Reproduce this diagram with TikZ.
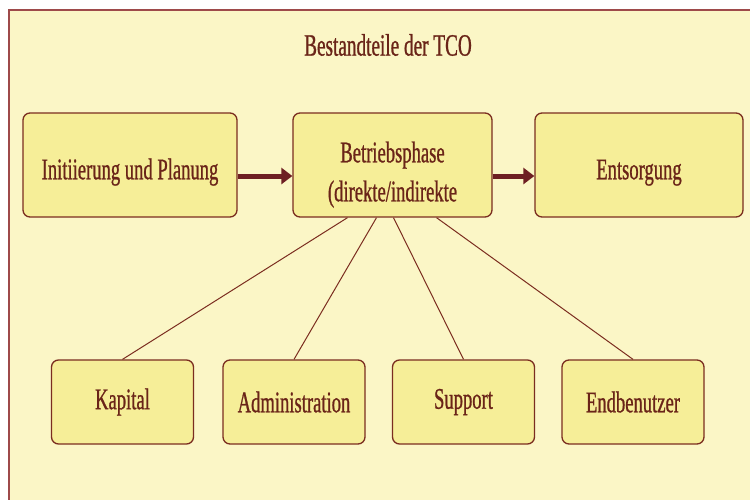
\documentclass[tikz,border=0pt]{standalone}
\usepackage{fontspec}
\setmainfont[FakeStretch=0.62,FakeBold=0.8]{Liberation Serif}
\usepackage{tikz}
\usetikzlibrary{calc}
\usetikzlibrary{arrows.meta,backgrounds,shapes}
\usetikzlibrary{positioning}
\usepackage{xcolor}
\definecolor{tcobg}{HTML}{FBF6C6}
\definecolor{tcobox}{HTML}{F6EE98}
\definecolor{tcoline}{HTML}{7B2D20}
\definecolor{tcoarrow}{HTML}{6E1F22}
\definecolor{tcotext}{HTML}{6A2418}
\definecolor{tcoframe}{HTML}{9E4A4A}

\begin{document}
\begin{tikzpicture}[x=1pt,y=-1pt,
    part/.style={draw=tcoline, line width=1.3pt, fill=tcobox, rounded corners=7pt,
      inner sep=0pt, minimum width=142pt, minimum height=84pt, text=tcotext,
      font=\fontsize{30}{39}\selectfont, align=center},
    phase/.style={part, minimum height=104pt,
      execute at begin node={\rule{0pt}{35pt}}},
    flow/.style={draw=tcoarrow, line width=5pt, -{Triangle[length=11pt,width=16pt]}},
    link/.style={draw=tcoline, line width=1pt}]
    %% \draw[help lines] (0,0) grid (750,499);
    \clip (0,0) rectangle (750,499);
    \fill[white] (0,0) rectangle (750,499);
    \draw[tcoframe, line width=2pt, fill=tcobg] (9,10) rectangle (780,530);
    \node[text=tcotext, font=\fontsize{31}{36}\selectfont] (title) at (388,45) {Bestandteile der TCO};

    %% phases
    \node[phase, minimum width=214pt] (init) at (130,165) {Initiierung und Planung};
    \node[phase, minimum width=199pt] (betrieb) at (392.5,165) {\rule{0pt}{40pt}Betriebsphase\\(direkte/indirekte};
    \node[phase, minimum width=208pt] (entsorg) at (639,165) {Entsorgung};
    \draw[flow] ([yshift=-11pt]init.east) -- ([yshift=-11pt]betrieb.west);
    \draw[flow] ([yshift=-11pt]betrieb.east) -- ([yshift=-11pt]entsorg.west);

    %% cost parts
    \node[part] (kapital) at (122.5,402) {Kapital};
    \node[part] (admin) at (294,402) {Administration};
    \node[part] (support) at (463.5,402) {Support};
    \node[part] (nutzer) at (633,402) {Endbenutzer};
    \draw[link] ($(betrieb.south)+(-45,0)$) -- (kapital.north);
    \draw[link] ($(betrieb.south)+(-16,0)$) -- (admin.north);
    \draw[link] ($(betrieb.south)+(1,0)$) -- (support.north);
    \draw[link] ($(betrieb.south)+(44,0)$) -- (nutzer.north);
  \end{tikzpicture}
\end{document}
